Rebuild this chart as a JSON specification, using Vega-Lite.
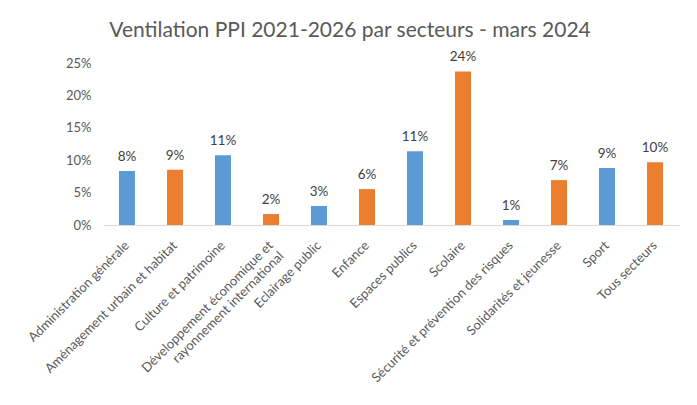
{
  "$schema": "https://vega.github.io/schema/vega-lite/v6.json",
  "autosize": "none",
  "width": 576,
  "height": 162,
  "padding": {"left": 103, "top": 63, "right": 18, "bottom": 180},
  "background": "white",
  "title": {
    "text": "Ventilation PPI 2021-2026 par secteurs - mars 2024",
    "font": "Lato",
    "fontSize": 21,
    "fontWeight": "normal",
    "color": "#595959",
    "anchor": "middle",
    "dx": -41,
    "offset": 9
  },
  "data": {
    "values": [
      {"secteur": "Administration générale", "part": 0.0832, "serie": "A"},
      {"secteur": "Aménagement urbain et habitat", "part": 0.0852, "serie": "B"},
      {"secteur": "Culture et patrimoine", "part": 0.1078, "serie": "A"},
      {"secteur": "Développement économique et rayonnement international", "part": 0.0169, "serie": "B"},
      {"secteur": "Eclairage public", "part": 0.0293, "serie": "A"},
      {"secteur": "Enfance", "part": 0.0554, "serie": "B"},
      {"secteur": "Espaces publics", "part": 0.114, "serie": "A"},
      {"secteur": "Scolaire", "part": 0.237, "serie": "B"},
      {"secteur": "Sécurité et prévention des risques", "part": 0.0077, "serie": "A"},
      {"secteur": "Solidarités et jeunesse", "part": 0.0693, "serie": "B"},
      {"secteur": "Sport", "part": 0.0878, "serie": "A"},
      {"secteur": "Tous secteurs", "part": 0.097, "serie": "B"}
    ]
  },
  "encoding": {
    "x": {
      "field": "secteur",
      "type": "nominal",
      "sort": null,
      "scale": {"paddingInner": 0.667, "paddingOuter": 0.333},
      "axis": {
        "title": null,
        "labelAngle": -45,
        "labelAlign": "right",
        "labelBaseline": "middle",
        "labelPadding": 18,
        "labelFont": "Lato",
        "labelFontSize": 13,
        "labelColor": "#595959",
        "labelLimit": 400,
        "labelOverlap": false,
        "ticks": false,
        "domainColor": "#D9D9D9",
        "domainWidth": 1,
        "labelExpr": "datum.label == 'Développement économique et rayonnement international' ? ['Développement économique et', 'rayonnement international'] : datum.label"
      }
    },
    "y": {
      "field": "part",
      "type": "quantitative",
      "scale": {"domain": [0, 0.25], "nice": false},
      "axis": {
        "title": null,
        "format": ".0%",
        "values": [0, 0.05, 0.1, 0.15, 0.2, 0.25],
        "grid": false,
        "domain": false,
        "ticks": false,
        "labelPadding": 12,
        "labelFont": "Lato",
        "labelFontSize": 13,
        "labelColor": "#595959"
      }
    }
  },
  "layer": [
    {
      "mark": {"type": "bar"},
      "encoding": {
        "color": {
          "field": "serie",
          "type": "nominal",
          "scale": {"domain": ["A", "B"], "range": ["#5B9BD5", "#ED7D31"]},
          "legend": null
        }
      }
    },
    {
      "mark": {"type": "text", "baseline": "bottom", "dy": -7, "font": "Lato", "fontSize": 13.5, "color": "#404040"},
      "encoding": {
        "text": {"field": "part", "type": "quantitative", "format": ".0%"}
      }
    }
  ],
  "config": {
    "view": {"stroke": null}
  }
}
